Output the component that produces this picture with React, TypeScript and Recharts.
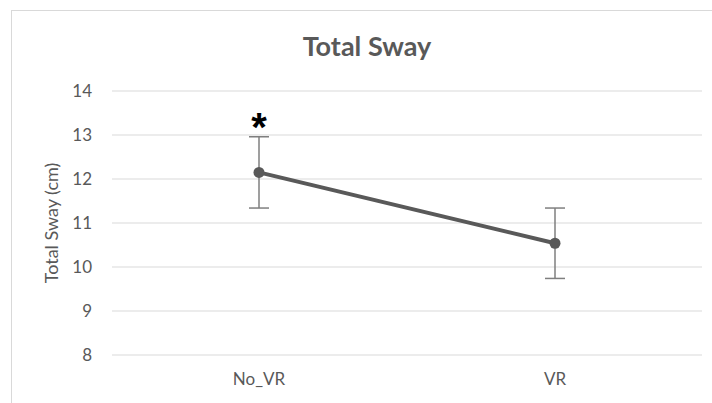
import React from 'react';
import { LineChart, Line, XAxis, YAxis, CartesianGrid, ErrorBar, LabelList } from 'recharts';

const categories = ['No_VR', 'VR'];
const means = [12.15, 10.54];
const errors = [0.81, 0.8];
const marks = ['*', ''];
const yTicks = [8, 9, 10, 11, 12, 13, 14];

const data = categories.map((c, i) => ({ name: c, value: means[i], err: errors[i], sig: marks[i] }));

const FONT = 'Lato, "Open Sans", sans-serif';
const GREY = '#595959';

const Star = (props: any) => {
  const { x, y, value } = props;
  if (!value) return null;
  return (
    <text x={x} y={y - 31} textAnchor="middle" fontSize={40} fontWeight="bold" fill="#000" fontFamily='"Liberation Sans", Arial, sans-serif'>
      {value}
    </text>
  );
};

export default function App() {
  return (
    <div style={{ position: 'absolute', left: 0, top: 0, width: 712, height: 403, overflow: 'hidden', background: '#fff', fontFamily: FONT }}>
      <div style={{ position: 'absolute', left: 11, top: 10, width: 760, height: 460, border: '1px solid #d9d9d9', boxSizing: 'border-box' }} />
      <div style={{ position: 'absolute', left: 0, top: 30, width: 734, textAlign: 'center', fontSize: 27, fontWeight: 'bold', color: GREY, lineHeight: '32px' }}>
        Total Sway
      </div>
      <div style={{ position: 'absolute', left: 0, top: 0 }}>
        <LineChart width={712} height={403} data={data} margin={{ top: 91, right: 10, bottom: 18, left: 0 }}>
          <CartesianGrid vertical={false} stroke="#d9d9d9" strokeWidth={1} />
          <XAxis
            dataKey="name"
            axisLine={false}
            tickLine={false}
            height={30}
            tickSize={0}
            tickMargin={18}
            padding={{ left: 147, right: 147 }}
            tick={{ fill: GREY, fontSize: 17, fontFamily: FONT }}
          />
          <YAxis
            domain={[8, 14]}
            ticks={yTicks}
            width={112}
            axisLine={false}
            tickLine={false}
            tickSize={0}
            tickMargin={20}
            interval={0}
            tick={{ fill: GREY, fontSize: 17, fontFamily: FONT }}
            label={{ value: 'Total Sway (cm)', angle: -90, position: 'center', dx: -4, fill: GREY, fontSize: 18, fontFamily: FONT } as any}
          />
          <Line
            type="linear"
            dataKey="value"
            stroke={GREY}
            strokeWidth={4}
            dot={{ r: 5.5, fill: GREY, stroke: GREY, strokeWidth: 0 }}
            isAnimationActive={false}
          >
            <ErrorBar dataKey="err" direction="y" width={10} stroke="#7f7f7f" strokeWidth={1.5} />
            <LabelList dataKey="sig" content={<Star />} />
          </Line>
        </LineChart>
      </div>
    </div>
  );
}
